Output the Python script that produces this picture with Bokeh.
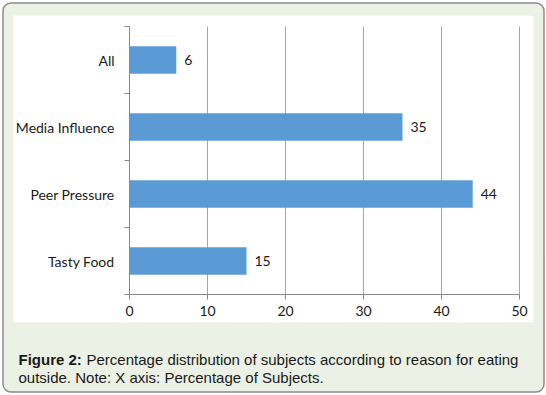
from bokeh.plotting import figure
from bokeh.models import (FixedTicker, Label, LabelSet, Range1d, ColumnDataSource,
                          LinearAxis, BoxAnnotation)
from bokeh.core.properties import value
from bokeh.embed import file_html
from bokeh.resources import INLINE

categories = ["Tasty Food", "Peer Pressure", "Media Influence", "All"]
values = [15, 44, 35, 6]
x_ticks = [0, 10, 20, 30, 40, 50]
caption_bold = "Figure 2:"
caption_line1 = "Percentage distribution of subjects according to reason for eating"
caption_line2 = "outside. Note: X axis: Percentage of Subjects."

GREEN = "#ebf1e5"
TEXT = "#1a1a1a"
AXIS = "#888888"
GRID = "#a6a6a6"
BAR = "#5b9bd5"
CHART_FONT = "Lato"
CAP_FONT = "Liberation Sans"

# canvas geometry (pixels); the figure spans the whole frame
W, H = 545, 394
X0, X1 = 129, 519      # pixel position of x = 0 and x = 50
YB, YT = 294, 26       # pixel position of category band bottom and top
XMAX = x_ticks[-1]
NCAT = len(categories)
SX = (X1 - X0) / XMAX
SY = (YB - YT) / NCAT


def px2x(px):
    return (px - X0) / SX


def py2y(py):
    return (YB - py) / SY


ys = [i + 0.5 for i in range(NCAT)]
src = ColumnDataSource(dict(y=ys, v=values, lab=[str(v) for v in values]))

p = figure(width=W, height=H, output_backend="svg", toolbar_location=None,
           x_range=Range1d(px2x(0), px2x(W)), y_range=Range1d(py2y(H), py2y(0)),
           x_axis_location=None, y_axis_location=None, min_border=0)
p.border_fill_color = "white"
p.background_fill_color = "white"
p.outline_line_color = None
p.grid.grid_line_color = None

# outer rounded box and white chart panel
p.add_layout(BoxAnnotation(left=px2x(2.5), right=px2x(543.5),
                           top=py2y(2.5), bottom=py2y(391.5),
                           fill_color=GREEN, fill_alpha=1,
                           line_color="#8c8c8c", line_width=1.5, line_alpha=1,
                           border_radius=8, level="image"))
p.add_layout(BoxAnnotation(left=px2x(13), right=px2x(533),
                           top=py2y(15), bottom=py2y(322),
                           fill_color="white", fill_alpha=1, line_color=None,
                           level="image"))

# vertical grid lines
gx = x_ticks[1:]
p.segment(x0=gx, x1=gx, y0=[0] * len(gx), y1=[NCAT] * len(gx),
          line_color=GRID, line_width=1)

p.hbar(y="y", right="v", left=0, height=0.41, source=src,
       fill_color=BAR, line_color=None)

p.add_layout(LabelSet(x="v", y="y", text="lab", source=src, x_offset=8,
                      text_baseline="middle", text_align="left",
                      text_font=value(CHART_FONT), text_font_size="14px",
                      text_color=TEXT))

xaxis = LinearAxis(fixed_location=0, bounds=(0, XMAX),
                   ticker=FixedTicker(ticks=x_ticks))
xaxis.axis_line_color = AXIS
xaxis.major_tick_line_color = AXIS
xaxis.major_tick_out = 5
xaxis.major_tick_in = 0
xaxis.minor_tick_line_color = None
xaxis.major_label_standoff = 6
xaxis.major_label_text_font = CHART_FONT
xaxis.major_label_text_font_size = "14px"
xaxis.major_label_text_color = TEXT
p.add_layout(xaxis, "below")

yaxis = LinearAxis(fixed_location=0, bounds=(0, NCAT),
                   ticker=FixedTicker(ticks=ys, minor_ticks=list(range(NCAT + 1))))
yaxis.major_label_overrides = {y: c for y, c in zip(ys, categories)}
yaxis.axis_line_color = AXIS
yaxis.major_tick_line_color = None
yaxis.major_tick_out = 0
yaxis.major_tick_in = 0
yaxis.minor_tick_line_color = AXIS
yaxis.minor_tick_out = 5
yaxis.minor_tick_in = 0
yaxis.major_label_standoff = 10
yaxis.major_label_text_font = CHART_FONT
yaxis.major_label_text_font_size = "14px"
yaxis.major_label_text_color = TEXT
p.add_layout(yaxis, "left")

# caption
p.add_layout(Label(x=px2x(18), y=py2y(359), text=caption_bold,
                   text_font=CAP_FONT, text_font_style="bold",
                   text_font_size="15px", text_color=TEXT,
                   text_baseline="alphabetic"))
p.add_layout(Label(x=px2x(86), y=py2y(359), text=caption_line1,
                   text_font=CAP_FONT, text_font_size="15px", text_color=TEXT,
                   text_baseline="alphabetic"))
p.add_layout(Label(x=px2x(18), y=py2y(377), text=caption_line2,
                   text_font=CAP_FONT, text_font_size="15px", text_color=TEXT,
                   text_baseline="alphabetic"))

open("out.html", "w").write(file_html(p, INLINE))
